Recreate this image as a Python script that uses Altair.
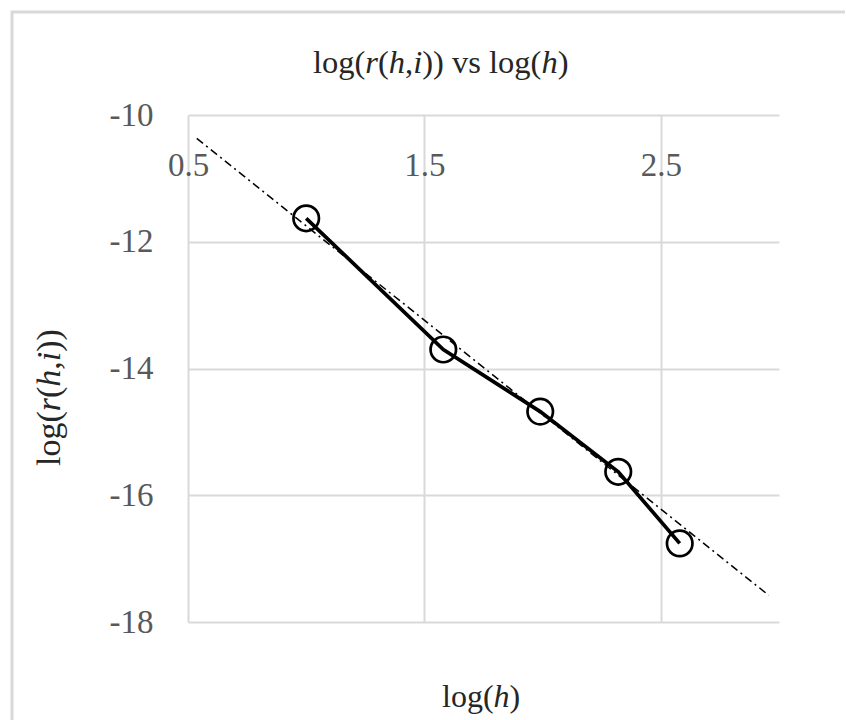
import altair as alt
import pandas as pd

# ---- data ----
log_h = [1.00, 1.58, 1.99, 2.32, 2.58]
log_r = [-11.63, -13.70, -14.68, -15.63, -16.76]
trend_x = [0.537, 2.957]
trend_y = [-10.37, -17.58]
x_ticks = [0.5, 1.5, 2.5]
y_ticks = [-18, -16, -14, -12, -10]

FONT = "Liberation Serif"
GRID = "#d9d9d9"
LABEL = "#595959"
TEXT = "#262626"

W, H = 591, 507

pts = pd.DataFrame({"x": log_h, "y": log_r})
trend = pd.DataFrame({"x": trend_x, "y": trend_y})

xs = alt.Scale(domain=[0.5, 3.0], nice=False, zero=False)
ys = alt.Scale(domain=[-18, -10], nice=False, zero=False)

x_axis = alt.Axis(
    orient="top", values=x_ticks, title=None, domain=False, ticks=False, tickSize=0,
    labelPadding=-60, labelBaseline="alphabetic", labelFlush=False, labelOverlap=False,
    labelFont=FONT, labelFontSize=33, labelColor=LABEL, labelExpr="'' + datum.value",
    grid=True, gridColor=GRID, gridWidth=2,
)
y_axis = alt.Axis(
    values=y_ticks, title=None, domain=False, ticks=False, tickSize=0,
    labelPadding=35, labelFlush=False, labelOverlap=False,
    labelFont=FONT, labelFontSize=33, labelColor=LABEL, labelExpr="'' + datum.value",
    grid=True, gridColor=GRID, gridWidth=2,
)

X = alt.X("x:Q", scale=xs, axis=x_axis)
Y = alt.Y("y:Q", scale=ys, axis=y_axis)

base = alt.Chart(pts).encode(x=X, y=Y)
line = base.mark_line(color="black", strokeWidth=3.7)
points = base.mark_point(shape="circle", filled=False, size=650, color="black",
                         strokeWidth=2.7, opacity=1)

trend_line = alt.Chart(trend).mark_line(color="black", strokeWidth=1.5,
                                        strokeDash=[8, 4, 2, 4]).encode(x=X, y=Y)

one = pd.DataFrame({"a": [0]})

# chart-area frame (decorative)
frame = alt.Chart(one).mark_rect(fill="white", fillOpacity=0, stroke=GRID,
                                 strokeWidth=3).encode(
    x=alt.value(-176), y=alt.value(-103), x2=alt.value(720), y2=alt.value(720)
)

# Times/Liberation Serif advance widths (per 1000 em)
REG = {'l': 278, 'o': 500, 'g': 500, '(': 333, ')': 333, ',': 250, ' ': 250,
       'v': 500, 's': 389}
ITA = {'r': 389, 'h': 500, 'i': 278}


def width(s, italic, size):
    tab = ITA if italic else REG
    return sum(tab.get(c, 500) for c in s) * size / 1000.0


def rich_text(frags, x0, y0, size, vertical=False):
    layers = []
    pos = 0.0
    for s, it in frags:
        kw = dict(text=s, font=FONT, fontSize=size, align="left",
                  baseline="alphabetic", color=TEXT,
                  fontStyle="italic" if it else "normal")
        if vertical:
            kw["angle"] = 270
            enc = dict(x=alt.value(x0), y=alt.value(y0 - pos))
        else:
            enc = dict(x=alt.value(x0 + pos), y=alt.value(y0))
        layers.append(alt.Chart(one).mark_text(**kw).encode(**enc))
        pos += width(s, it, size)
    return layers


title_frags = [("log(", False), ("r", True), ("(", False), ("h", True), (",", False),
               ("i", True), (")) vs log(", False), ("h", True), (")", False)]
ytitle_frags = [("log(", False), ("r", True), ("(", False), ("h", True), (",", False),
                ("i", True), ("))", False)]
xtitle_frags = [("log(", False), ("h", True), (")", False)]

texts = (rich_text(title_frags, 125, -42, 32.5)
         + rich_text(ytitle_frags, -128, 351, 34, vertical=True)
         + rich_text(xtitle_frags, 254, 592, 32))

chart = alt.layer(frame, line, points, trend_line, *texts).properties(
    width=W, height=H,
    autosize=alt.AutoSizeParams(type="none"),
    padding={"left": 180, "top": 107, "right": 66, "bottom": 98},
).configure(background="white").configure_view(strokeWidth=0, stroke="transparent")

chart.save("out.html", embed_options={"renderer": "svg", "actions": False})
